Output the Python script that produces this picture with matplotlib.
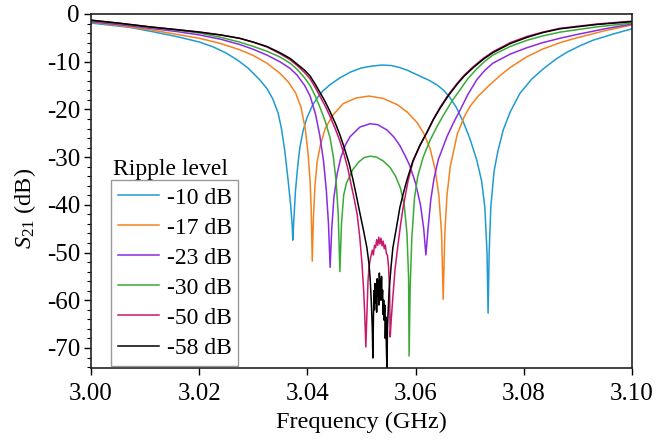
import matplotlib
matplotlib.use("Agg")
import matplotlib.pyplot as plt
from matplotlib.ticker import MultipleLocator

plt.rcParams['font.family'] = ['Liberation Serif', 'DejaVu Serif']
plt.rcParams['mathtext.fontset'] = 'custom'
plt.rcParams['mathtext.rm'] = 'Liberation Serif'
plt.rcParams['mathtext.it'] = 'Liberation Serif:italic'

labels = ['-10 dB', '-17 dB', '-23 dB', '-30 dB', '-50 dB', '-58 dB']
colors = ['#1f9bd1', '#f5821f', '#8a2be2', '#3aaa35', '#c8186c', '#000000']

f10 = [3.0000, 3.0040, 3.0072, 3.0109, 3.0140, 3.0165, 3.0201, 3.0226, 3.0250, 3.0270,
       3.0290, 3.0312, 3.0325, 3.0336, 3.0346, 3.0352, 3.0358, 3.0364, 3.0369, 3.0372,
       3.0373, 3.0375, 3.0378, 3.0382, 3.0386, 3.0392, 3.0399, 3.0410, 3.0420, 3.0429,
       3.0442, 3.0460, 3.0479, 3.0500, 3.0520, 3.0538, 3.0555, 3.0570, 3.0585, 3.0600,
       3.0625, 3.0640, 3.0651, 3.0662, 3.0675, 3.0688, 3.0700, 3.0713, 3.0722, 3.0728,
       3.0732, 3.0734, 3.0736, 3.0739, 3.0745, 3.0752, 3.0762, 3.0775, 3.0793, 3.0815,
       3.0836, 3.0860, 3.0880, 3.0905, 3.0928, 3.0965, 3.1000]
s10 = [-1.9, -2.4, -2.8, -3.6, -4.3, -4.9, -5.9, -6.9, -8.2, -9.6,
       -11.3, -13.8, -15.6, -17.8, -20.8, -24.0, -28.5, -34.5, -40.0, -44.5,
       -47.4, -43.0, -37.0, -32.0, -28.0, -24.5, -21.8, -19.0, -17.3, -16.1,
       -14.8, -13.4, -12.2, -11.3, -10.9, -10.7, -10.8, -11.2, -11.8, -12.6,
       -13.9, -14.9, -15.9, -17.3, -19.5, -22.6, -26.0, -30.6, -35.0, -40.5,
       -50.0, -62.7, -50.0, -40.5, -33.0, -28.8, -24.3, -20.5, -16.6, -13.6,
       -11.5, -9.4, -8.0, -6.6, -5.5, -4.2, -3.1]

f17 = [3.0000, 3.0050, 3.0109, 3.0160, 3.0201, 3.0240, 3.0275, 3.0300, 3.0325, 3.0349,
       3.0365, 3.0378, 3.0388, 3.0396, 3.0401, 3.0405, 3.0407, 3.0409, 3.0411, 3.0414,
       3.0418, 3.0424, 3.0433, 3.0447, 3.0466, 3.0490, 3.0514, 3.0540, 3.0566, 3.0585,
       3.0603, 3.0615, 3.0627, 3.0636, 3.0643, 3.0648, 3.0651, 3.0654, 3.0658, 3.0664,
       3.0677, 3.0690, 3.0701, 3.0715, 3.0732, 3.0755, 3.0775, 3.0805, 3.0836, 3.0870,
       3.0898, 3.0950, 3.1000]
s17 = [-1.7, -2.4, -3.3, -4.3, -5.1, -6.2, -7.5, -8.7, -10.3, -12.4,
       -14.3, -16.5, -19.5, -24.0, -29.0, -35.0, -41.0, -51.8, -43.0, -36.0,
       -31.0, -27.5, -24.0, -21.2, -18.8, -17.6, -17.2, -17.7, -19.0, -20.6,
       -22.8, -25.0, -28.3, -32.5, -38.0, -46.0, -59.8, -46.0, -38.0, -32.0,
       -25.2, -21.5, -19.3, -17.3, -15.4, -13.0, -11.2, -9.0, -7.3, -5.9,
       -5.0, -3.5, -2.3]

f23 = [3.0000, 3.0050, 3.0109, 3.0160, 3.0201, 3.0240, 3.0275, 3.0300, 3.0325, 3.0349,
       3.0368, 3.0381, 3.0395, 3.0405, 3.0415, 3.0423, 3.0430, 3.0435, 3.0439, 3.0442,
       3.0445, 3.0449, 3.0455, 3.0462, 3.0470, 3.0479, 3.0497, 3.0516, 3.0530, 3.0547,
       3.0560, 3.0571, 3.0582, 3.0590, 3.0600, 3.0609, 3.0615, 3.0619, 3.0623, 3.0628,
       3.0634, 3.0642, 3.0658, 3.0670, 3.0682, 3.0697, 3.0713, 3.0728, 3.0743, 3.0775,
       3.0805, 3.0835, 3.0870, 3.0898, 3.0950, 3.1000]
s23 = [-1.6, -2.2, -3.0, -3.7, -4.4, -5.3, -6.4, -7.4, -8.6, -10.0,
       -11.4, -12.8, -15.0, -17.2, -21.0, -25.5, -31.0, -37.0, -44.0, -53.1,
       -45.0, -38.5, -33.5, -30.0, -27.5, -25.7, -23.7, -23.0, -23.2, -24.3,
       -25.8, -27.6, -30.0, -32.0, -35.5, -40.0, -45.0, -50.5, -45.0, -39.0,
       -34.5, -30.5, -25.7, -22.8, -20.2, -16.8, -13.8, -11.8, -10.3, -8.4,
       -7.1, -6.0, -5.0, -4.3, -3.1, -2.1]

f30 = [3.0000, 3.0050, 3.0109, 3.0160, 3.0201, 3.0240, 3.0275, 3.0300, 3.0325, 3.0349,
       3.0368, 3.0381, 3.0395, 3.0405, 3.0415, 3.0423, 3.0433, 3.0442, 3.0448, 3.0453,
       3.0457, 3.0460, 3.0463, 3.0467, 3.0472, 3.0484, 3.0495, 3.0505, 3.0516, 3.0528,
       3.0540, 3.0553, 3.0563, 3.0572, 3.0579, 3.0584, 3.0587, 3.0588, 3.0590, 3.0593,
       3.0598, 3.0604, 3.0614, 3.0627, 3.0640, 3.0651, 3.0667, 3.0682, 3.0697, 3.0713,
       3.0728, 3.0743, 3.0775, 3.0806, 3.0835, 3.0867, 3.0935, 3.1000]
s30 = [-1.4, -2.0, -2.8, -3.4, -4.0, -4.9, -5.9, -6.8, -7.8, -9.0,
       -10.3, -11.6, -13.4, -15.0, -17.3, -19.5, -22.5, -26.0, -30.0, -35.0,
       -42.0, -54.0, -44.0, -38.0, -35.5, -32.6, -31.0, -30.1, -29.8, -30.0,
       -30.8, -32.2, -34.0, -36.5, -40.0, -46.0, -55.0, -71.7, -57.0, -47.0,
       -38.5, -34.0, -30.0, -26.4, -23.5, -21.3, -18.3, -15.9, -13.5, -11.5,
       -9.9, -8.6, -6.8, -5.5, -4.6, -3.8, -2.7, -1.9]

f50 = [3.0000, 3.0050, 3.0109, 3.0160, 3.0201, 3.0240, 3.0275, 3.0300, 3.0325, 3.0349,
       3.0368, 3.0381, 3.0395, 3.0405, 3.0415, 3.0423, 3.0433, 3.0442, 3.0452, 3.0460,
       3.0468, 3.0475, 3.0480, 3.0486, 3.0492, 3.0497, 3.0501, 3.0504, 3.0506, 3.0508,
       3.0510, 3.0512, 3.0514, 3.0516, 3.0518, 3.0520, 3.0522, 3.0524, 3.0526, 3.0528,
       3.0530, 3.0532, 3.0534, 3.0536, 3.0538, 3.0540, 3.0542, 3.0544, 3.0546, 3.0548,
       3.0550, 3.0552, 3.0553, 3.0555, 3.0558, 3.0562, 3.0567, 3.0572, 3.0577, 3.0586,
       3.0595, 3.0608, 3.0621, 3.0633, 3.0645, 3.0660, 3.0677, 3.0690, 3.0706, 3.0725,
       3.0743, 3.0775, 3.0806, 3.0835, 3.0867, 3.0935, 3.1000]
s50 = [-1.3, -1.9, -2.7, -3.3, -3.8, -4.4, -5.1, -5.9, -6.9, -8.3,
       -9.6, -10.8, -12.3, -13.6, -15.5, -17.2, -19.3, -21.5, -24.2, -26.6,
       -29.5, -32.5, -35.3, -38.5, -42.0, -47.0, -52.5, -58.0, -63.0, -69.8,
       -63.0, -56.0, -53.0, -51.5, -50.5, -49.5, -50.5, -48.5, -49.0, -47.3,
       -48.5, -46.8, -48.2, -47.0, -48.6, -47.6, -49.2, -48.4, -50.2, -50.6,
       -53.0, -58.0, -67.7, -64.0, -59.3, -53.5, -48.8, -44.3, -40.5, -35.0,
       -31.0, -27.6, -24.8, -22.0, -19.6, -17.0, -14.5, -12.8, -11.1, -9.3,
       -7.9, -6.0, -4.7, -3.8, -3.0, -2.1, -1.5]

f58 = [3.0000, 3.0050, 3.0109, 3.0160, 3.0201, 3.0240, 3.0275, 3.0300, 3.0325, 3.0349,
       3.0368, 3.0381, 3.0395, 3.0405, 3.0415, 3.0423, 3.0433, 3.0442, 3.0452, 3.0460,
       3.0468, 3.0477, 3.0484, 3.0490, 3.0497, 3.0504, 3.0510, 3.0514, 3.0516, 3.0518,
       3.0520, 3.0521, 3.0522, 3.0523, 3.0524, 3.0525, 3.0526, 3.0527, 3.0528, 3.0529,
       3.0530, 3.0531, 3.0532, 3.0533, 3.0534, 3.0535, 3.0536, 3.0537, 3.0538, 3.0539,
       3.0540, 3.0541, 3.0542, 3.0543, 3.0544, 3.0545, 3.0546, 3.0547, 3.0548, 3.0549,
       3.0551, 3.0555, 3.0558, 3.0565, 3.0571, 3.0578, 3.0584, 3.0595, 3.0608, 3.0621,
       3.0633, 3.0645, 3.0660, 3.0677, 3.0690, 3.0706, 3.0725, 3.0743, 3.0775, 3.0806,
       3.0835, 3.0867, 3.0935, 3.1000]
s58 = [-1.3, -1.9, -2.7, -3.3, -3.8, -4.4, -5.1, -5.9, -6.8, -8.1,
       -9.3, -10.5, -11.8, -13.0, -14.8, -16.4, -18.4, -20.5, -23.0, -25.3,
       -28.0, -31.3, -34.6, -37.8, -41.7, -45.5, -49.0, -52.5, -55.5, -60.0,
       -66.0, -72.1, -64.0, -58.0, -62.0, -56.5, -60.5, -57.0, -62.5, -55.5,
       -59.0, -56.0, -61.0, -54.3, -58.5, -55.5, -60.0, -55.0, -59.5, -57.9,
       -63.0, -60.0, -64.2, -61.0, -68.0, -63.5, -70.0, -74.2, -66.0, -63.0,
       -58.0, -52.5, -49.0, -44.5, -40.5, -37.3, -34.8, -30.8, -27.5, -24.8,
       -22.1, -19.8, -17.2, -14.7, -13.0, -11.3, -9.5, -8.1, -6.2, -4.9,
       -3.9, -3.1, -2.2, -1.6]

freqs = [f10, f17, f23, f30, f50, f58]
s21 = [s10, s17, s23, s30, s50, s58]

fig = plt.figure(figsize=(6.68, 4.41), dpi=100)
ax = fig.add_axes([91/668, 1-368/441, 541/668, 354/441])

for f, s, c, lab in zip(freqs, s21, colors, labels):
    ax.plot(f, s, color=c, lw=1.1, label=lab)

ax.set_xlim(3.00, 3.10)
ax.set_ylim(-74.2, 0)
ax.yaxis.set_minor_locator(MultipleLocator(2))
ax.set_xticks([3.00, 3.02, 3.04, 3.06, 3.08, 3.10])
ax.set_xticklabels(['3.00', '3.02', '3.04', '3.06', '3.08', '3.10'])
ax.set_yticks([0, -10, -20, -30, -40, -50, -60, -70])
ax.set_yticklabels(['0', '-10', '-20', '-30', '-40', '-50', '-60', '-70'])
ax.tick_params(which='major', direction='out', length=5, width=1.0, labelsize=18,
               top=False, right=False)
ax.tick_params(axis='x', which='major', pad=6)
ax.tick_params(axis='y', which='major', pad=3)
ax.tick_params(which='minor', direction='out', length=3, width=0.8, top=False, right=False)
for sp in ax.spines.values():
    sp.set_linewidth(1.2)
    sp.set_color('#222222')

ax.set_xlabel('Frequency (GHz)', fontsize=17.5, labelpad=5)
ax.set_ylabel('$S_{21}$ (dB)', fontsize=17.5, labelpad=7)
ax.yaxis.set_label_coords(-0.098, 0.45)

leg = ax.legend(loc='upper left', bbox_to_anchor=(0.037, 0.531), borderaxespad=0,
                fontsize=17, frameon=True, fancybox=False, handlelength=1.75,
                handletextpad=0.3, labelspacing=0.36, borderpad=0.3)
leg.get_frame().set_edgecolor('#808080')
leg.get_frame().set_linewidth(1.0)
ax.text(0.04, 0.56, 'Ripple level', transform=ax.transAxes, fontsize=17,
        ha='left', va='center')

fig.savefig('out.png', dpi=100)
